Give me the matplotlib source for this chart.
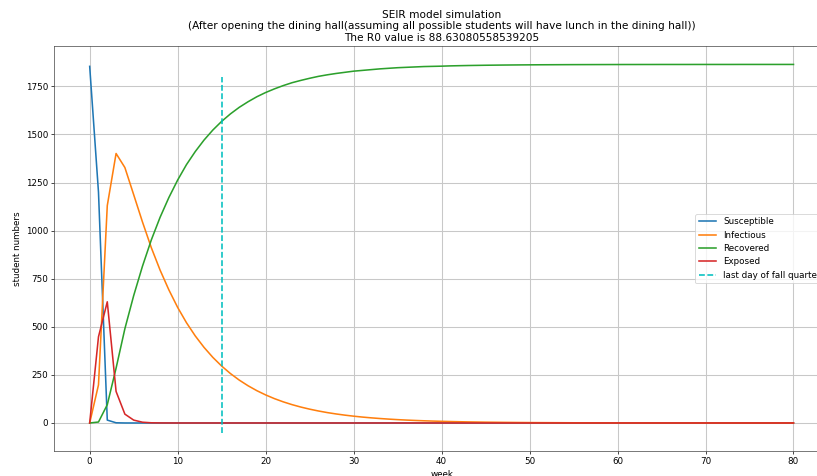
import matplotlib
matplotlib.use("Agg")
import matplotlib.pyplot as plt

weeks = list(range(81))

susceptible = [1854, 1200, 15, 1, 0.1] + [0] * 76

exposed = [0, 448, 630, 164, 46, 15, 4, 1, 0.3, 0.1] + [0] * 71

infectious = [0, 198, 1130, 1401, 1328, 1187, 1045, 912, 795, 692,
              600.7, 521.4, 452.6, 392.9, 341.0, 296.0, 256.9, 223.0, 193.6, 168.0,
              145.9, 126.6, 109.9, 95.4, 82.8, 71.9, 62.4, 54.1, 47.0, 40.8,
              35.4, 30.7, 26.7, 23.2, 20.1, 17.4, 15.1, 13.1, 11.4, 9.9,
              8.6, 7.5, 6.5, 5.6, 4.9, 4.2, 3.7, 3.2, 2.8, 2.4,
              2.1, 1.8, 1.6, 1.4, 1.2, 1.0, 0.9, 0.8, 0.7, 0.6,
              0.5, 0.4, 0.4, 0.3, 0.3, 0.2, 0.2, 0.2, 0.2, 0.1,
              0.1, 0.1, 0.1, 0.1, 0.1, 0.1, 0.1, 0.1, 0.1, 0.1, 0.1]

recovered = [0, 5, 95, 285, 490, 662, 815, 951, 1069, 1172,
             1263, 1343, 1411, 1471, 1523, 1568, 1607, 1641, 1670, 1696,
             1718, 1737, 1754, 1769, 1781, 1792, 1802, 1810, 1817, 1823,
             1829, 1833, 1837, 1841, 1844, 1847, 1849, 1851, 1853, 1854,
             1855, 1856.5, 1857.5, 1858.4, 1859.1, 1859.8, 1860.3, 1860.8, 1861.2, 1861.6,
             1861.9, 1862.2, 1862.4, 1862.6, 1862.8, 1863.0, 1863.1, 1863.2, 1863.3, 1863.4,
             1863.5, 1863.6, 1863.6, 1863.7, 1863.7, 1863.8, 1863.8, 1863.8, 1863.8, 1863.9,
             1863.9, 1863.9, 1863.9, 1863.9, 1864, 1864, 1864, 1864, 1864, 1864, 1864]

last_day_week = 15
vline_range = (-50, 1800)

title = ("SEIR model simulation\n"
         "(After opening the dining hall(assuming all possible students will have lunch in the dining hall))\n"
         "The R0 value is 88.63080558539205")

dpi = 63
fig = plt.figure(figsize=(817 / dpi, 476 / dpi), dpi=dpi)
ax = fig.add_axes([0.0667, 0.0525, 0.9476, 0.8508])

lw = 1.8
ax.plot(weeks, susceptible, label="Susceptible", lw=lw)
ax.plot(weeks, infectious, label="Infectious", lw=lw)
ax.plot(weeks, recovered, label="Recovered", lw=lw)
ax.plot(weeks, exposed, label="Exposed", lw=lw)
ax.vlines(last_day_week, vline_range[0], vline_range[1], colors="c",
          linestyles="dashed", label="last day of fall quarter", lw=lw)

ax.set_title(title)
ax.set_xlabel("week")
ax.set_ylabel("student numbers")
ax.grid(True, color="#c8c8c8", lw=1.2)
ax.legend(loc="center right")
for side in ("left", "bottom", "top"):
    ax.spines[side].set_color("#444444")

fig.savefig("out.png", dpi=dpi)
